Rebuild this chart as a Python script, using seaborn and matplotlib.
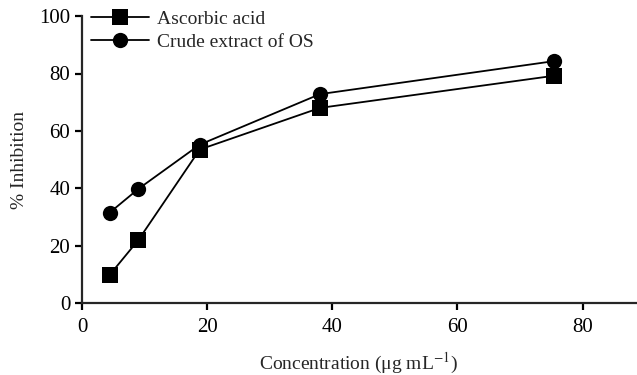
import pandas as pd
import seaborn as sns
import matplotlib.pyplot as plt

# Data
conc = [4.4, 9.0, 18.8, 38.0, 75.4]
ascorbic = [9.8, 22.0, 53.5, 68.0, 79.2]
crude = [31.5, 39.8, 55.2, 72.8, 84.3]

df = pd.DataFrame({
    'Concentration': conc * 2,
    'Inhibition': ascorbic + crude,
    'Sample': ['Ascorbic acid'] * len(conc) + ['Crude extract of OS'] * len(conc),
})

sns.set_style('ticks')
plt.rcParams['font.family'] = ['Liberation Serif', 'DejaVu Serif']
plt.rcParams['mathtext.fontset'] = 'stix'

fig = plt.figure(figsize=(6.37, 3.75), dpi=100)
ax = fig.add_axes([0.129, 0.192, 0.869, 0.765])

sns.lineplot(data=df, x='Concentration', y='Inhibition', hue='Sample', style='Sample',
             markers={'Ascorbic acid': 's', 'Crude extract of OS': 'o'}, dashes=False,
             palette={'Ascorbic acid': 'black', 'Crude extract of OS': 'black'},
             markersize=11, markeredgewidth=0, linewidth=1.3, ax=ax)

ax.set_xlim(0, 88.5)
ax.set_ylim(0, 100)
ax.set_xticks([0, 20, 40, 60, 80])
ax.set_yticks([0, 20, 40, 60, 80, 100])
ax.tick_params(labelsize=15, width=1.6, length=5, colors='black')
ax.tick_params(axis='x', pad=6)
for s in ['left', 'bottom']:
    ax.spines[s].set_linewidth(1.6)
sns.despine(ax=ax)

ax.set_xlabel('Concentration (μg mL$^{-1}$)', fontsize=14, labelpad=9.5)
ax.set_ylabel('% Inhibition', fontsize=14, labelpad=8)

ax.legend(loc='upper left', bbox_to_anchor=(-0.005, 1.06), frameon=False, fontsize=14,
          handlelength=3.0, handletextpad=0.4, labelspacing=0.25, borderaxespad=0.2)

fig.savefig('out.png', dpi=100)
